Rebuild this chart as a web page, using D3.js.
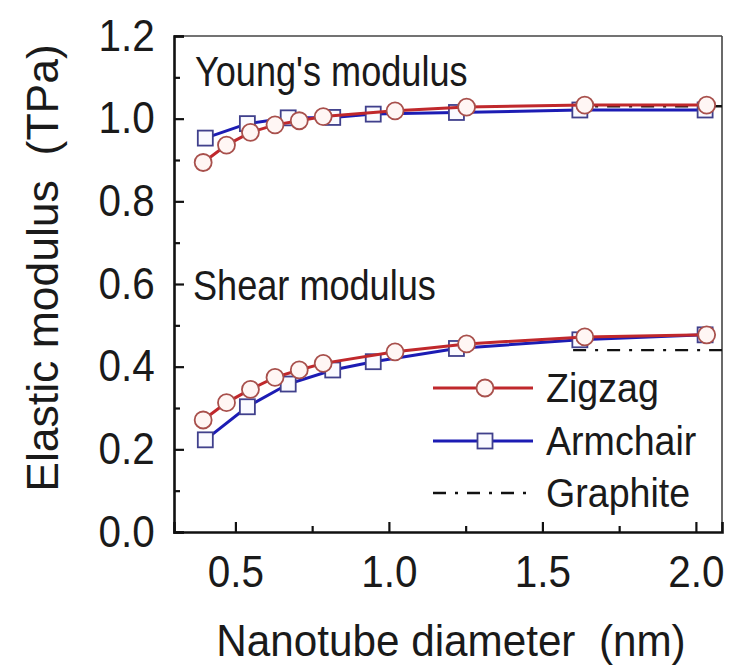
<!DOCTYPE html>
<html>
<head>
<meta charset="utf-8">
<script src="https://cdn.jsdelivr.net/npm/d3@7"></script>
<style>
  body { margin: 0; background: #fff; }
  svg { display: block; }
  text { font-family: "Liberation Sans", Arial, sans-serif; fill: #1a1a1a; white-space: pre; }
</style>
</head>
<body>
<svg id="chart"></svg>
<script>
// diameters (nm) of the tubes
var zigzagD = [0.395, 0.471, 0.549, 0.629, 0.708, 0.786, 1.02, 1.253, 1.638, 2.035];
var armchairD = [0.402, 0.539, 0.672, 0.817, 0.949, 1.22, 1.622, 2.03];

// moduli (TPa)
var zigzagYoung = [0.894, 0.936, 0.967, 0.985, 0.995, 1.005, 1.019, 1.028, 1.033, 1.033];
var armchairYoung = [0.953, 0.988, 1.002, 1.003, 1.011, 1.015, 1.021, 1.021];
var zigzagShear = [0.271, 0.313, 0.345, 0.374, 0.392, 0.408, 0.436, 0.455, 0.472, 0.477];
var armchairShear = [0.223, 0.303, 0.358, 0.392, 0.412, 0.444, 0.465, 0.477];

// graphite reference values
var graphiteX = [1.6, 2.085];
var graphiteYoung = 1.03;
var graphiteShear = 0.44;

var xTicks = [0.5, 1.0, 1.5, 2.0];
var xMinor = [0.75, 1.25, 1.75];
var yTicks = [0, 0.2, 0.4, 0.6, 0.8, 1.0, 1.2];
var yMinor = [0.1, 0.3, 0.5, 0.7, 0.9, 1.1];

var legendNames = ["Zigzag", "Armchair", "Graphite"];

var width = 732, height = 668;
var pLeft = 174, pRight = 722, pTop = 36, pBottom = 532;

var red = "#c0282c", blue = "#1c1cb4";

var svg = d3.select('#chart')
  .attr('width', width)
  .attr('height', height);

var x = d3.scaleLinear().domain([0.3, 2.085]).range([pLeft, pRight]);
var y = d3.scaleLinear().domain([0, 1.2]).range([pBottom, pTop]);

// text squeezed a little sideways like the original figure
function label(tx, ty, str, size, sx, rot) {
  return svg.append('text')
    .attr('transform', 'translate(' + tx + ',' + ty + ')' + (rot ? ' rotate(' + rot + ')' : '') + ' scale(' + sx + ',1)')
    .attr('font-size', size)
    .text(str);
}

// frame: top / right thin
svg.append('line')
  .attr('x1', pLeft).attr('x2', pRight)
  .attr('y1', pTop).attr('y2', pTop)
  .attr('stroke', '#444').attr('stroke-width', 1.6);
svg.append('line')
  .attr('x1', pRight).attr('x2', pRight)
  .attr('y1', pTop).attr('y2', pBottom)
  .attr('stroke', '#444').attr('stroke-width', 1.6);

// axes, ticks pointing inward
svg.append('g')
  .attr('transform', 'translate(' + pLeft + ',0)')
  .call(d3.axisLeft(y).tickValues(yTicks).tickSize(-10).tickPadding(21)
    .tickFormat(d3.format('.1f')));
svg.append('g')
  .attr('transform', 'translate(' + pLeft + ',0)')
  .call(d3.axisLeft(y).tickValues(yMinor).tickSize(-6).tickFormat(''))
  .call(g => g.select('.domain').remove());

svg.append('g')
  .attr('transform', 'translate(0,' + pBottom + ')')
  .call(d3.axisBottom(x).tickValues(xTicks).tickSize(-10).tickPadding(24)
    .tickFormat(d3.format('.1f')));
svg.append('g')
  .attr('transform', 'translate(0,' + pBottom + ')')
  .call(d3.axisBottom(x).tickValues(xMinor).tickSize(-6).tickFormat(''))
  .call(g => g.select('.domain').remove());

svg.selectAll('.domain')
  .attr('stroke', '#111').attr('stroke-width', 2.6);
svg.selectAll('.tick line')
  .attr('stroke', '#111').attr('stroke-width', 2.2);
svg.selectAll('.tick text')
  .attr('font-size', 44)
  .attr('font-family', '"Liberation Sans", Arial, sans-serif')
  .attr('fill', '#1a1a1a')
  .attr('transform', 'scale(0.92,1)');

// axis titles
label((pLeft + pRight) / 2 + 3, 656, 'Nanotube diameter  (nm)', 44, 0.96)
  .attr('text-anchor', 'middle');
label(58, 268, 'Elastic modulus  (TPa)', 44.5, 1, -90)
  .attr('text-anchor', 'middle');

// annotations
label(195, 86, "Young's modulus", 42, 0.86);
label(193, 300, 'Shear modulus', 42, 0.86);

// graphite reference lines
var dash = '13,9,3,9';
[graphiteYoung, graphiteShear].forEach(function(v) {
  svg.append('line')
    .attr('x1', x(graphiteX[0])).attr('x2', x(graphiteX[1]))
    .attr('y1', y(v)).attr('y2', y(v))
    .attr('stroke', '#111').attr('stroke-width', 2.4)
    .attr('stroke-dasharray', dash);
});

var line = d3.line().x(d => x(d[0])).y(d => y(d[1]));

function series(ds, vs, color, shape) {
  var pts = ds.map((d, i) => [d, vs[i]]);
  svg.append('path')
    .datum(pts)
    .attr('d', line)
    .attr('fill', 'none')
    .attr('stroke', color)
    .attr('stroke-width', 3);
  if (shape === 'circle') {
    svg.selectAll(null).data(pts).enter().append('circle')
      .attr('cx', d => x(d[0])).attr('cy', d => y(d[1]))
      .attr('r', 8.5)
      .attr('fill', '#fff6f4')
      .attr('stroke', '#a8504c').attr('stroke-width', 1.8);
  } else {
    svg.selectAll(null).data(pts).enter().append('rect')
      .attr('x', d => x(d[0]) - 7.5).attr('y', d => y(d[1]) - 7.5)
      .attr('width', 15).attr('height', 15)
      .attr('fill', '#fafaff')
      .attr('stroke', '#40408c').attr('stroke-width', 1.8);
  }
}

series(armchairD, armchairYoung, blue, 'square');
series(zigzagD, zigzagYoung, red, 'circle');
series(armchairD, armchairShear, blue, 'square');
series(zigzagD, zigzagShear, red, 'circle');

// legend
var lg = svg.append('g');
var rows = [388, 441, 493];
legendNames.forEach(function(name, i) {
  var ly = rows[i];
  var l = lg.append('line')
    .attr('x1', 433).attr('x2', 533)
    .attr('y1', ly).attr('y2', ly)
    .attr('stroke-width', i === 2 ? 2.4 : 3);
  if (i === 0) {
    l.attr('stroke', red);
    lg.append('circle').attr('cx', 485).attr('cy', ly).attr('r', 8.5)
      .attr('fill', '#fff6f4').attr('stroke', '#a8504c').attr('stroke-width', 1.8);
  } else if (i === 1) {
    l.attr('stroke', blue);
    lg.append('rect').attr('x', 485 - 7.5).attr('y', ly - 7.5)
      .attr('width', 15).attr('height', 15)
      .attr('fill', '#fafaff').attr('stroke', '#40408c').attr('stroke-width', 1.8);
  } else {
    l.attr('stroke', '#111').attr('stroke-dasharray', dash);
  }
  label(546, ly + 14, name, 40, 0.94);
});
</script>
</body>
</html>
